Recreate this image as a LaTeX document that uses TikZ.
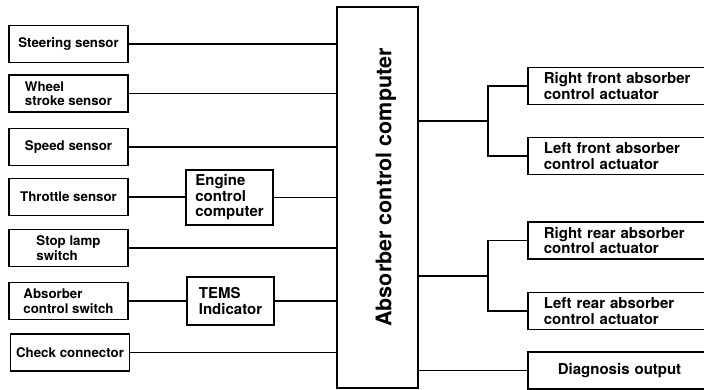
\documentclass[tikz,border=0pt]{standalone}
\usepackage{fontspec}
\setmainfont{TeX Gyre Heros}
\usetikzlibrary{calc}

\tikzset{
	sensorbox/.style={draw, line width=1.8pt, minimum width=119pt, minimum height=37pt, align=left, inner sep=2pt, font=\bfseries\fontsize{13.3}{14.5}\selectfont},
	midbox/.style={draw, line width=1.8pt, minimum width=87pt, align=left, inner sep=2pt, font=\bfseries\fontsize{15}{15.5}\selectfont},
	actbox/.style={draw, line width=1.8pt, anchor=west, text width=170pt, inner xsep=16pt, minimum height=37pt, align=left, font=\bfseries\fontsize{15}{15.5}\selectfont},
	wire/.style={line width=1.5pt}
}

\begin{document}
\begin{tikzpicture}[x=1pt, y=-1pt]
		
		\useasboundingbox (0,0) rectangle (704,390);
		
		% Absorber control computer (the big box in the middle)
		\node[draw, line width=1.8pt, minimum width=81pt, minimum height=381pt] (acc) at (377.5,197.5) {};
		\node[rotate=90, font=\bfseries\fontsize{21.5}{22}\selectfont] (acctext) at (386,187.5) {Absorber control computer};
		
		% Sensors and switches (left column)
		\node[sensorbox] (steer)  at (68.5,44)   {Steering sensor};
		\node[sensorbox] (wheel)  at (68.5,93.5) {Wheel\\stroke sensor};
		\node[sensorbox] (speed)  at (68.5,147)  {Speed sensor};
		\node[sensorbox] (throt)  at (68.5,197)  {Throttle sensor};
		\node[sensorbox] (stop)   at (68.5,248)  {Stop lamp\\switch};
		\node[sensorbox] (absw)   at (68.5,301)  {Absorber\\control switch};
		\node[sensorbox, inner sep=1pt] (check)  at (70,352.5) {Check connector};
		
		% Engine control computer and TEMS indicator
		\node[midbox, minimum height=55pt] (ecc)  at (229.5,197.5) {Engine\\control\\computer};
		\node[midbox, minimum height=48pt] (tems) at (230.5,301)   {TEMS\\Indicator};
		
		% Actuators and diagnosis output (right column)
		\node[actbox] (rf)   at (527,86)    {Right front absorber\\control actuator};
		\node[actbox] (lf)   at (527,156)   {Left front absorber\\control actuator};
		\node[actbox] (rr)   at (527,240.5) {Right rear absorber\\control actuator};
		\node[actbox] (lr)   at (527,311)   {Left rear absorber\\control actuator};
		\node[actbox] (diag) at (527,370.5) {\hspace*{14pt}Diagnosis output};
		
		% Inputs into the computer
		\draw[wire] (steer.east) -- (steer.east -| acc.west);
		\draw[wire] (wheel.east) -- (wheel.east -| acc.west);
		\draw[wire] (speed.east) -- (speed.east -| acc.west);
		\draw[wire] (throt.east) -- (throt.east -| ecc.west);
		\draw[wire] (ecc.east) -- (ecc.east -| acc.west);
		\draw[wire] (stop.east) -- (stop.east -| acc.west);
		\draw[wire] (absw.east) -- (absw.east -| tems.west);
		\draw[wire] (tems.east) -- (tems.east -| acc.west);
		\draw[wire] (check.east) -- (check.east -| acc.west);
		
		% Branch points on the output side
		\coordinate (fsplit) at ($(rf.west)!0.5!(lf.west) + (-39,0)$);
		\coordinate (rsplit) at ($(rr.west)!0.5!(lr.west) + (-39,0)$);
		
		% Outputs from the computer
		\draw[wire] (fsplit -| acc.east) -- (fsplit);
		\draw[wire] (rf.west) -| (fsplit) |- (lf.west);
		\draw[wire] (rsplit -| acc.east) -- (rsplit);
		\draw[wire] (rr.west) -| (rsplit) |- (lr.west);
		\draw[wire] (diag.west) -- (diag.west -| acc.east);
		
	\end{tikzpicture}
\end{document}
